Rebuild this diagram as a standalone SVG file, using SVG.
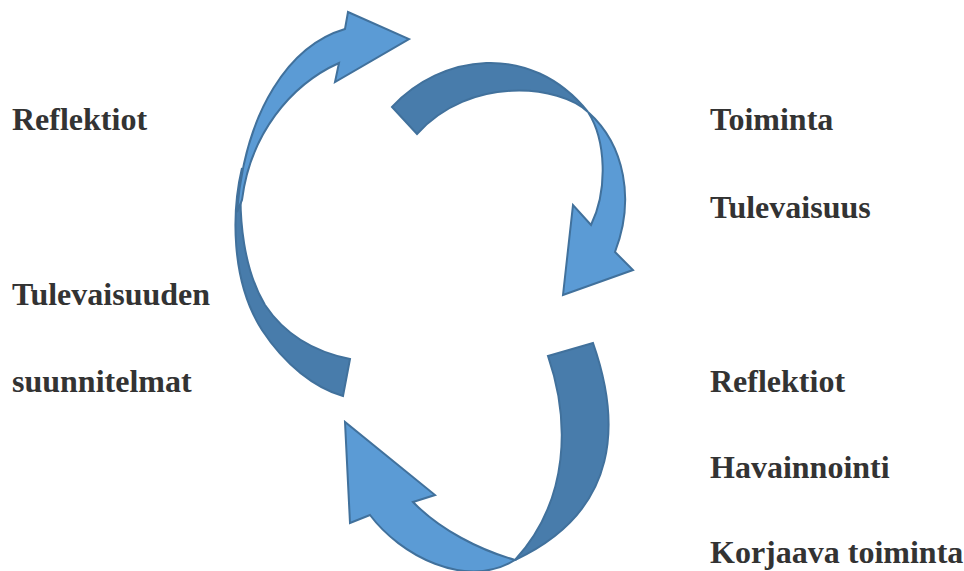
<svg xmlns="http://www.w3.org/2000/svg" width="964" height="571" viewBox="0 0 964 571">
<style>
.lt{fill:#5B9BD5;stroke:#41719C;stroke-width:2;stroke-linejoin:miter}
.dk{fill:#487CAB;stroke:#41719C;stroke-width:2;stroke-linejoin:miter}
text{font-weight:bold;font-size:32px;fill:#333333}
</style>
<rect width="964" height="571" fill="#ffffff"/>
<g id="connectors">
<g id="arrow-left">
<path class="dk" d="M 242,168 C 232,210 230,280 262,330 C 285,365 315,388 343,396 L 350,359 C 315,352 285,335 265,305 C 245,272 237,220 242,168 Z"/>
<path class="lt" d="M 237,212 C 245,110 290,45 345,29 L 348,12 L 409,39 L 335,82 L 339,63 C 290,85 250,135 242,200 Z"/>
</g>
<g id="arrow-top-right">
<path class="dk" d="M 392,107 C 440,55 530,40 588,112 C 560,85 470,75 417,134 Z"/>
<path class="lt" d="M 588,112 C 606,140 608,190 591,225 L 573,205 L 563,295 L 633,270 L 615,252 C 635,200 625,145 588,112 Z"/>
</g>
<g id="arrow-bottom">
<path class="dk" d="M 548,356 L 593,343 C 620,420 622,510 515,560 C 570,500 570,420 548,356 Z"/>
<path class="lt" d="M 515,560 C 480,550 440,530 413,502 L 435,495 L 345,422 L 350,523 L 370,515 C 400,555 465,590 515,560 Z"/>
</g>
</g>
<g id="labels-left" font-family="'Liberation Serif', 'DejaVu Serif', serif">
<text x="12" y="130">Reflektiot</text>
<text x="12" y="305">Tulevaisuuden</text>
<text x="12" y="392">suunnitelmat</text>
</g>
<g id="labels-right" font-family="'Liberation Serif', 'DejaVu Serif', serif">
<text x="710" y="130">Toiminta</text>
<text x="710" y="218">Tulevaisuus</text>
<text x="710" y="392">Reflektiot</text>
<text x="710" y="478">Havainnointi</text>
<text x="710" y="563">Korjaava toiminta</text>
</g>
</svg>
